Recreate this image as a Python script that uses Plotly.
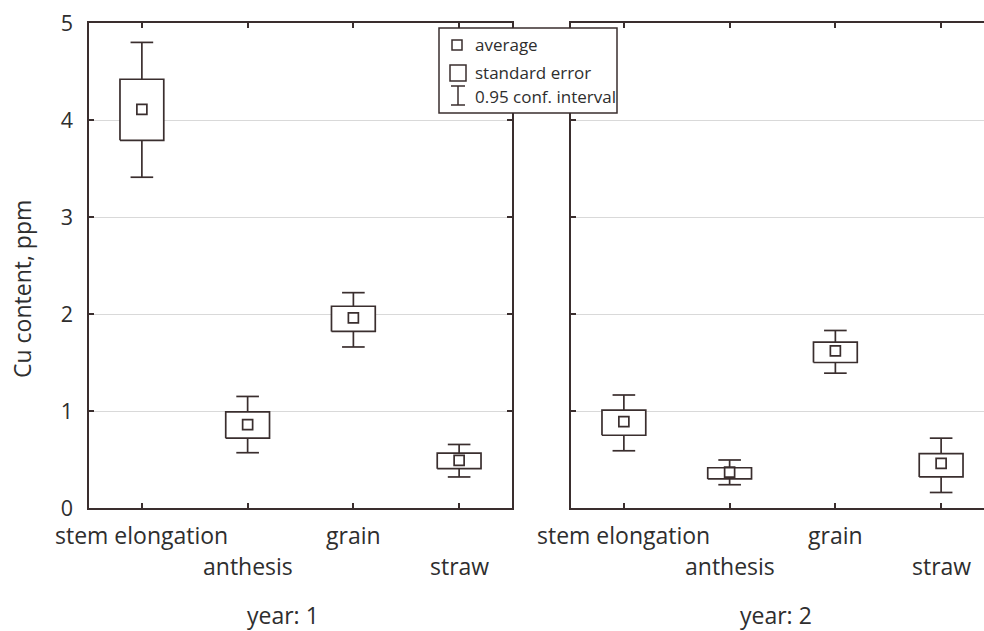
import plotly.graph_objects as go

# Growth stages and seasons
stages = ["stem elongation", "anthesis", "grain", "straw"]
year_labels = ["year: 1", "year: 2"]

# Cu content (ppm): average, standard error bounds, 0.95 confidence interval bounds
mean_y1 = [4.11, 0.86, 1.96, 0.49]
se_lo_y1 = [3.79, 0.72, 1.82, 0.405]
se_hi_y1 = [4.42, 0.99, 2.08, 0.565]
ci_lo_y1 = [3.41, 0.57, 1.66, 0.32]
ci_hi_y1 = [4.80, 1.15, 2.22, 0.655]

mean_y2 = [0.89, 0.37, 1.62, 0.46]
se_lo_y2 = [0.75, 0.30, 1.50, 0.32]
se_hi_y2 = [1.01, 0.415, 1.71, 0.56]
ci_lo_y2 = [0.59, 0.24, 1.39, 0.16]
ci_hi_y2 = [1.165, 0.495, 1.83, 0.72]

y_ticks = [0, 1, 2, 3, 4, 5]

W, H = 984, 631
TOP, BOTTOM = 23, 508           # plot area in pixels (vertical)
LEFT_DOM = (89, 512)
RIGHT_DOM = (571, 984)
UNIT_PX = (LEFT_DOM[1] - LEFT_DOM[0]) / 4.0

INK = "#3a2e2e"
TEXT = "#2e2e2e"
FONT = "Open Sans"

BOX_HALF = 0.207
CAP_HALF = 0.107


def px(x):
    return x / W


def py(y):
    return (BOTTOM - y) / (BOTTOM - TOP)


def box_traces(mean, se_lo, se_hi, ci_lo, ci_hi, xa, ya):
    bx, by, wx, wy = [], [], [], []
    for i in range(len(stages)):
        bx += [i - BOX_HALF, i + BOX_HALF, i + BOX_HALF, i - BOX_HALF, i - BOX_HALF, None]
        by += [se_lo[i], se_lo[i], se_hi[i], se_hi[i], se_lo[i], None]
        # whiskers from box edges to CI limits, with caps
        wx += [i, i, None, i, i, None]
        wy += [se_hi[i], ci_hi[i], None, se_lo[i], ci_lo[i], None]
        wx += [i - CAP_HALF, i + CAP_HALF, None, i - CAP_HALF, i + CAP_HALF, None]
        wy += [ci_hi[i], ci_hi[i], None, ci_lo[i], ci_lo[i], None]
    line = dict(color=INK, width=1.7)
    return [
        go.Scatter(x=wx, y=wy, mode="lines", line=line, xaxis=xa, yaxis=ya,
                   showlegend=False, hoverinfo="skip"),
        go.Scatter(x=bx, y=by, mode="lines", line=line, fill="toself",
                   fillcolor="white", xaxis=xa, yaxis=ya, showlegend=False,
                   hoverinfo="skip"),
        go.Scatter(x=list(range(len(stages))), y=mean, mode="markers",
                   marker=dict(symbol="square-open", size=10, color=INK,
                               line=dict(width=1.7, color=INK)),
                   xaxis=xa, yaxis=ya, showlegend=False),
    ]


fig = go.Figure()
for t in box_traces(mean_y1, se_lo_y1, se_hi_y1, ci_lo_y1, ci_hi_y1, "x", "y"):
    fig.add_trace(t)
for t in box_traces(mean_y2, se_lo_y2, se_hi_y2, ci_lo_y2, ci_hi_y2, "x2", "y2"):
    fig.add_trace(t)

right_span = (RIGHT_DOM[1] - RIGHT_DOM[0]) / UNIT_PX

xcommon = dict(
    tickmode="array", tickvals=list(range(len(stages))), showticklabels=False,
    ticks="inside", ticklen=5, tickwidth=1.5, tickcolor=INK,
    showline=True, linecolor=INK, linewidth=1.5, mirror="ticks",
    showgrid=False, zeroline=False,
)
ycommon = dict(
    range=[0, 5], tickmode="array", tickvals=y_ticks,
    ticks="inside", ticklen=5, tickwidth=1.5, tickcolor=INK,
    showline=True, linecolor=INK, linewidth=1.5,
    showgrid=True, gridcolor="#d9d9d9", gridwidth=1, zeroline=False,
)

fig.update_layout(
    width=W, height=H,
    margin=dict(l=0, r=0, t=TOP, b=H - BOTTOM, pad=0),
    paper_bgcolor="white", plot_bgcolor="white",
    font=dict(family=FONT, size=21, color=TEXT),
    showlegend=False,
    xaxis=dict(domain=[px(LEFT_DOM[0]), px(LEFT_DOM[1])], range=[-0.5, 3.5],
               anchor="y", **xcommon),
    xaxis2=dict(domain=[px(RIGHT_DOM[0]), 1.0], range=[-0.5, -0.5 + right_span],
                anchor="y2", **xcommon),
    yaxis=dict(anchor="x", mirror="ticks", showticklabels=True,
               tickfont=dict(size=21.5, color=TEXT), ticklabelstandoff=10,
               **ycommon),
    yaxis2=dict(anchor="x2", matches="y", showticklabels=False, mirror=False,
                **ycommon),
)

annotations = []
# y-axis title
annotations.append(dict(text="Cu content, ppm", textangle=-90, x=px(22), xref="paper",
                        y=py(289), yref="paper", xanchor="center", yanchor="middle",
                        showarrow=False, font=dict(size=23, color=TEXT)))
# stage labels, staggered on two rows under each panel
for xa in ("x", "x2"):
    for i, s in enumerate(stages):
        row_y = 535 if i % 2 == 0 else 566
        annotations.append(dict(text=s, x=i, xref=xa, y=py(row_y), yref="paper",
                                xanchor="center", yanchor="middle", showarrow=False,
                                font=dict(size=23, color=TEXT)))
# season labels under each panel
centres = [283, 776]
for c, lab in zip(centres, year_labels):
    annotations.append(dict(text=lab, x=px(c), xref="paper", y=py(615), yref="paper",
                            xanchor="center", yanchor="middle", showarrow=False,
                            font=dict(size=23, color=TEXT)))

# key explaining the marks
key_items = [("average", 45), ("standard error", 73), ("0.95 conf. interval", 96)]
for lab, yc in key_items:
    annotations.append(dict(text=lab, x=px(473), xref="paper", y=py(yc), yref="paper",
                            xanchor="left", yanchor="middle", showarrow=False,
                            font=dict(size=17, color=TEXT)))

shapes = [
    dict(type="rect", xref="paper", yref="paper", x0=px(439), x1=px(617),
         y0=py(113), y1=py(28), line=dict(color=INK, width=1.5), fillcolor="white",
         layer="above"),
    dict(type="rect", xref="paper", yref="paper", x0=px(452), x1=px(462),
         y0=py(50), y1=py(40), line=dict(color=INK, width=1.5), layer="above"),
    dict(type="rect", xref="paper", yref="paper", x0=px(450), x1=px(466),
         y0=py(81), y1=py(65), line=dict(color=INK, width=1.5), layer="above"),
    dict(type="line", xref="paper", yref="paper", x0=px(458), x1=px(458),
         y0=py(105), y1=py(86), line=dict(color=INK, width=1.5), layer="above"),
    dict(type="line", xref="paper", yref="paper", x0=px(451), x1=px(465),
         y0=py(86), y1=py(86), line=dict(color=INK, width=1.5), layer="above"),
    dict(type="line", xref="paper", yref="paper", x0=px(451), x1=px(465),
         y0=py(105), y1=py(105), line=dict(color=INK, width=1.5), layer="above"),
]

fig.update_layout(annotations=annotations, shapes=shapes)
fig.write_html("out.html")
